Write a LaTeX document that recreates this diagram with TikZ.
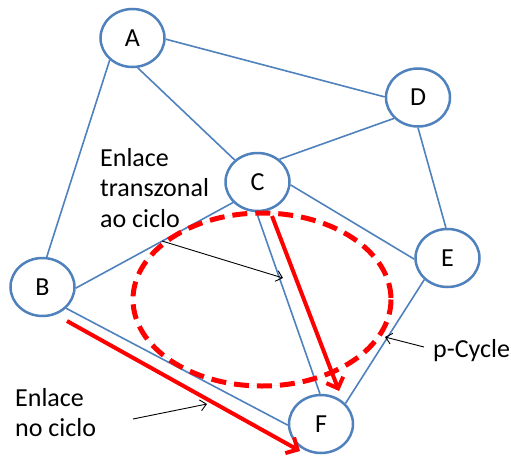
\documentclass[tikz,border=0pt]{standalone}
\usepackage{fontspec}
\setmainfont{Carlito}
\usetikzlibrary{shapes.geometric,arrows.meta}
\definecolor{nodeblue}{HTML}{4F81BD}
\definecolor{pred}{HTML}{FF0000}
\begin{document}
\begin{tikzpicture}[x=1pt,y=-1pt,
  vtx/.style={ellipse,draw=nodeblue,line width=2.5pt,fill=white,minimum width=64pt,minimum height=58pt,inner sep=0pt,font=\fontsize{26}{30}\selectfont},
  link/.style={draw=nodeblue,line width=1.6pt},
  cyc/.style={draw=pred,line width=4pt,-{Straight Barb[length=9pt,width=18pt,line width=4pt]}},
  ptr/.style={draw=black,line width=0.9pt,-{Straight Barb[length=6pt,width=11pt]}},
  lbl/.style={inner sep=0pt,align=left,font=\fontsize{26}{30.5}\selectfont}]
\useasboundingbox (0,0) rectangle (511,455);
% nodes
\node[vtx] (A) at (132.5,38) {A};
\node[vtx] (D) at (418,97.5) {D};
\node[vtx] (C) at (257.5,182) {C};
\node[vtx] (B) at (42.5,287) {B};
\node[vtx] (E) at (447.5,258) {E};
\node[vtx] (F) at (321,424) {F};
% edges
\draw[link] (A.224) -- (B.82);
\draw[link] (A.280) -- (C.136);
\draw[link] (A.358) -- (D.179);
\draw[link] (D.221) -- (C.46);
\draw[link] (D.270) -- (E.93);
\draw[link] (C.355) -- (E.182);
\draw[link] (C.220) -- (B.358);
\draw[link] (C.268) -- (F.92);
\draw[link] (B.318) -- (F.182);
\draw[link] (E.223) -- (F.40);
% p-cycle ellipse
\node[ellipse,draw=black!12,line width=0.4pt,minimum width=258pt,minimum height=173pt,inner sep=0pt] (P) at (262,299.5) {};
\draw[pred,line width=5pt,dash pattern=on 15pt off 8pt] (262,299.5) ellipse [x radius=129, y radius=86.5];
% red cycle arrows
\coordinate (r1s) at (272,216);
\coordinate (r1e) at (339,391);
\coordinate (r2s) at (67,321);
\coordinate (r2e) at (300,451);
\draw[cyc] (r1s) -- (r1e);
\draw[cyc] (r2s) -- (r2e);
% labels (base = baseline of last line)
\node[lbl,anchor=base west] (L1) at (100,227) {Enlace\\transzonal\\ao ciclo};
\node[lbl,anchor=base west] (L2) at (15,436.5) {Enlace\\no ciclo};
\node[lbl,anchor=base west] (L3) at (433,357) {p-Cycle};
% pointers
\coordinate (p1s) at (162,241);
\coordinate (p1e) at (283,278);
\coordinate (p2s) at (133,419);
\coordinate (p2e) at (207,404);
\coordinate (p3s) at (424,347);
\coordinate (p3e) at (385,337);
\draw[ptr] (p1s) -- (p1e);
\draw[ptr] (p2s) -- (p2e);
\draw[ptr] (p3s) -- (p3e);
\end{tikzpicture}
\end{document}
